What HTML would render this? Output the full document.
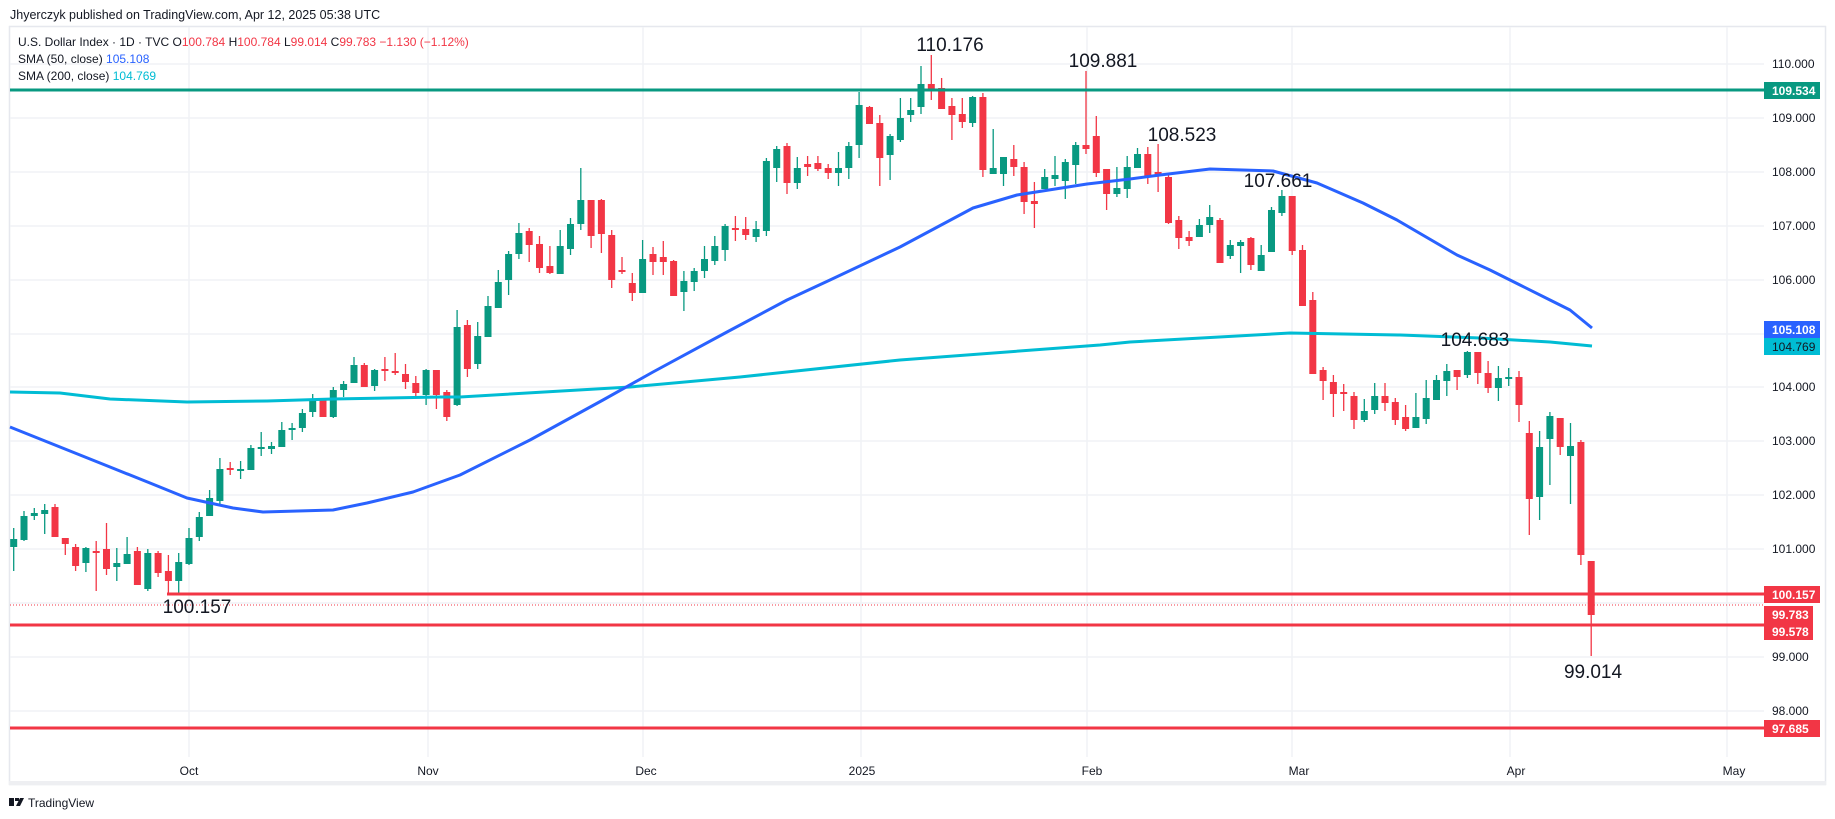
<!DOCTYPE html>
<html><head><meta charset="utf-8"><style>
html,body{margin:0;padding:0;background:#fff;width:1835px;height:819px;overflow:hidden;font-family:"Liberation Sans",Arial,sans-serif}
svg{position:absolute;left:0;top:0}
</style></head><body>
<svg id="s" width="1835" height="819" xmlns="http://www.w3.org/2000/svg" font-family="Liberation Sans, Arial, sans-serif">
<rect x="0" y="0" width="1835" height="819" fill="#fff"/>
<rect x="9.5" y="26.5" width="1816" height="758" fill="none" stroke="#e6e8ee" stroke-width="1.5"/>
<rect x="9" y="781" width="1817" height="4" fill="#eeeff2"/>
<g id="grid" stroke="#f0f2f6" stroke-width="1.5"></g>
<g id="candles"></g>
<polyline fill="none" stroke="#00bcd4" stroke-width="3" stroke-linejoin="round" points="10,392 60,393 110,399 187,402 267,401 333,399 440,397 460,397 630,387 740,377 900,360 1100,345 1130,342 1290,333 1400,335 1480,338 1550,342 1592,346"/>
<polyline fill="none" stroke="#2962ff" stroke-width="3" stroke-linejoin="round" points="10,427 60,447 110,467 150,483 187,498 233,508 263,512 333,510 367,503 413,492 460,475 530,440 603,400 653,372 727,332 787,300 830,280 900,247 973,208 1017,195 1087,184 1130,179 1160,175 1210,169 1273,171 1317,183 1363,203 1397,220 1457,255 1490,270 1520,285 1550,300 1570,310 1592,328"/>
<line x1="10" y1="90" x2="1764" y2="90" stroke="#089981" stroke-width="3"/>
<line x1="167" y1="594" x2="1764" y2="594" stroke="#f23645" stroke-width="3"/>
<line x1="10" y1="625" x2="1764" y2="625" stroke="#f23645" stroke-width="3"/>
<line x1="10" y1="728" x2="1764" y2="728" stroke="#f23645" stroke-width="3"/>
<line x1="10" y1="605" x2="1764" y2="605" stroke="#f23645" stroke-width="1" stroke-dasharray="1,2"/>
<g font-size="19" fill="#131722" text-anchor="middle">
<text x="950" y="51">110.176</text>
<text x="1103" y="67">109.881</text>
<text x="1182" y="141">108.523</text>
<text x="1278" y="187">107.661</text>
<text x="1475" y="346">104.683</text>
<text x="197" y="613">100.157</text>
<text x="1593" y="678">99.014</text>
</g>
<g font-size="12" fill="#131722">
<text x="1772" y="68">110.000</text>
<text x="1772" y="122">109.000</text>
<text x="1772" y="176">108.000</text>
<text x="1772" y="230">107.000</text>
<text x="1772" y="284">106.000</text>
<text x="1772" y="391">104.000</text>
<text x="1772" y="445">103.000</text>
<text x="1772" y="499">102.000</text>
<text x="1772" y="553">101.000</text>
<text x="1772" y="661">99.000</text>
<text x="1772" y="715">98.000</text>
</g>
<g font-size="12" font-weight="bold" fill="#fff">
<rect x="1764" y="82" width="56" height="17" fill="#089981"/><text x="1772" y="95">109.534</text>
<rect x="1764" y="321" width="56" height="17" fill="#2962ff"/><text x="1772" y="334">105.108</text>
<rect x="1764" y="338" width="56" height="17" fill="#00bcd4"/><text x="1772" y="351" fill="#131722" font-weight="normal">104.769</text>
<rect x="1764" y="586" width="56" height="17" fill="#f23645"/><text x="1772" y="599">100.157</text>
<rect x="1764" y="606" width="49" height="17" fill="#f23645"/><text x="1772" y="619">99.783</text>
<rect x="1764" y="623" width="49" height="17" fill="#f23645"/><text x="1772" y="636">99.578</text>
<rect x="1764" y="720" width="56" height="17" fill="#f23645"/><text x="1772" y="733">97.685</text>
</g>
<g font-size="12" fill="#131722" text-anchor="middle">
<text x="189" y="775">Oct</text><text x="428" y="775">Nov</text><text x="646" y="775">Dec</text>
<text x="862" y="775">2025</text><text x="1092" y="775">Feb</text><text x="1299" y="775">Mar</text>
<text x="1516" y="775">Apr</text><text x="1734" y="775">May</text>
</g>
<text x="10" y="19" font-size="12.5" fill="#131722">Jhyerczyk published on TradingView.com, Apr 12, 2025 05:38 UTC</text>
<g font-size="12" fill="#131722">
<text x="18" y="46">U.S. Dollar Index · 1D · TVC <tspan fill="#131722">O</tspan><tspan fill="#f23645">100.784</tspan> H<tspan fill="#f23645">100.784</tspan> L<tspan fill="#f23645">99.014</tspan> C<tspan fill="#f23645">99.783 −1.130 (−1.12%)</tspan></text>
<text x="18" y="63">SMA (50, close) <tspan fill="#2962ff">105.108</tspan></text>
<text x="18" y="80">SMA (200, close) <tspan fill="#00bcd4">104.769</tspan></text>
</g>
<g transform="translate(9,798)"><rect x="0" y="0" width="5" height="8" fill="#131722"/><rect x="6" y="0" width="4" height="3" fill="#131722"/><polygon points="11,0 15,0 11,8 7,8" fill="#131722"/></g>
<text x="28" y="807" font-size="12" fill="#131722">TradingView</text>
</svg>
<script>
var NS="http://www.w3.org/2000/svg";
var g=document.getElementById("grid");
[64,118,172,226,280,334,387,441,495,549,603,657,711].forEach(function(y){var l=document.createElementNS(NS,"line");l.setAttribute("x1",10);l.setAttribute("x2",1764);l.setAttribute("y1",y);l.setAttribute("y2",y);g.appendChild(l);});
[189,428,643,861,1087,1292,1510,1727].forEach(function(x){var l=document.createElementNS(NS,"line");l.setAttribute("x1",x);l.setAttribute("x2",x);l.setAttribute("y1",27);l.setAttribute("y2",757);g.appendChild(l);});
var d="g 539 547 528 571|g 516 540 511 541|g 513 516 508 520|g 510 514 504 534|r 507 537 504 537|r 538 544 538 555|r 547 566 544 571|g 548 563 547 572|r 551 553 541 591|r 549 569 523 575|g 563 567 548 581|g 554 564 537 564|r 551 585 547 585|g 553 589 549 591|r 553 573 551 577|r 571 581 555 593|g 562 581 553 593|g 538 564 528 565|g 517 537 512 541|g 498 516 490 516|g 469 501 458 504|r 468 470 462 475|g 469 471 461 479|g 448 470 445 470|g 447 449 432 456|g 446 449 442 454|g 430 447 422 447|g 428 430 423 440|g 413 428 409 432|g 400 412 394 417|r 398 417 398 417|g 390 417 387 418|g 384 390 381 397|g 365 383 357 383|r 365 387 363 387|g 370 386 369 391|r 369 371 357 381|r 371 373 353 375|r 374 382 364 389|r 383 393 376 397|g 370 395 369 405|r 370 395 370 409|r 392 417 390 421|g 327 405 310 406|r 325 369 320 377|g 336 364 322 369|g 306 337 296 337|g 282 308 270 308|g 254 280 251 295|g 233 254 223 259|r 231 245 228 262|r 244 268 236 273|r 266 273 246 274|g 246 274 230 274|g 224 249 218 255|g 200 224 168 230|r 200 236 200 248|r 200 234 199 253|r 235 280 230 288|r 270 272 257 274|r 283 293 273 301|g 259 293 240 293|r 254 262 247 275|r 257 262 241 275|r 261 296 260 296|g 281 292 271 311|g 271 282 268 291|g 259 271 246 278|g 246 261 236 265|g 226 250 224 261|r 228 230 216 241|r 229 235 217 240|g 229 237 221 242|g 161 231 158 236|g 149 168 146 182|r 146 183 143 194|g 168 183 157 189|r 164 167 156 176|r 163 169 156 171|r 168 173 164 179|g 168 173 152 186|g 146 168 142 179|g 105 145 92 158|r 107 124 106 124|r 123 158 115 186|g 136 155 134 180|g 118 140 98 142|g 110 115 98 122|g 84 107 66 114|r 84 91 55 100|r 88 109 78 109|r 106 115 98 140|r 114 122 98 128|g 97 123 96 127|r 97 170 93 177|g 168 174 129 174|g 157 174 157 186|r 159 167 145 176|r 167 202 162 214|r 201 204 182 228|g 177 189 169 189|g 175 179 156 186|g 162 181 159 199|g 145 165 142 184|r 145 149 71 154|r 136 173 116 177|r 169 194 169 210|g 188 194 167 197|g 167 189 156 198|g 154 168 148 168|r 154 177 147 184|r 172 175 144 192|r 177 223 173 224|r 220 238 216 249|r 237 241 231 246|g 225 237 219 237|g 217 225 205 233|r 220 263 218 263|g 245 256 240 259|g 242 246 240 273|r 238 265 237 270|g 255 271 245 271|g 210 252 207 252|g 196 213 190 216|r 196 251 196 255|r 250 306 245 306|r 300 374 292 374|r 370 381 367 400|r 382 394 375 417|r 392 394 384 411|r 396 420 392 429|g 411 420 399 422|g 396 410 383 414|r 396 403 383 411|r 402 420 398 425|r 417 429 405 431|g 417 428 393 428|g 398 419 380 424|g 380 400 375 400|g 371 381 364 396|r 370 377 370 390|g 352 375 351 378|r 352 373 352 384|r 373 388 361 393|g 378 388 366 401|g 377 379 368 386|r 377 405 371 422|r 433 499 421 535|g 447 497 431 520|g 416 439 412 485|r 418 447 418 455|g 446 456 423 504|r 442 555 440 565|r 561 615 561 656".split("|");
var c=document.getElementById("candles"),h="";
d.forEach(function(s,k){var p=s.split(" ");var i=k-17;var x=189+i*10.31;var col=p[0]=="g"?"#089981":"#f23645";
var t=+p[1],b=+p[2],hi=+p[3],lo=+p[4];if(b-t<2){b=t+2;}
h+='<line x1="'+x.toFixed(1)+'" x2="'+x.toFixed(1)+'" y1="'+hi+'" y2="'+lo+'" stroke="'+col+'" stroke-width="1.3"/>';
h+='<rect x="'+(x-3.5).toFixed(1)+'" y="'+t+'" width="7" height="'+(b-t)+'" fill="'+col+'"/>';});
c.innerHTML=h;
</script>
</body></html>
